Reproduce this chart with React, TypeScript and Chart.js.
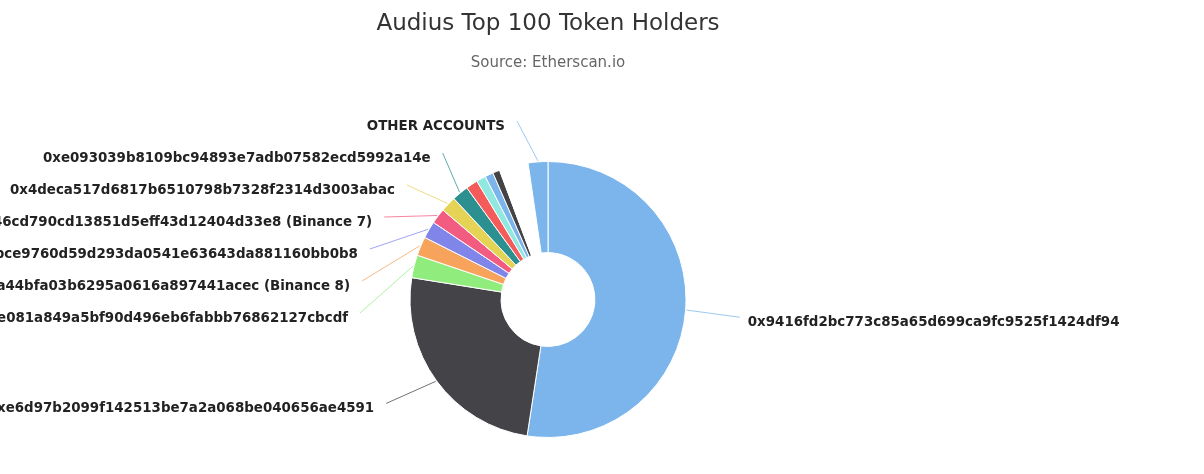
import React, { useEffect, useRef } from 'react';
import { Chart, registerables } from 'chart.js';

Chart.register(...registerables);

const chartTitle = 'Audius Top 100 Token Holders';
const chartSubtitle = 'Source: Etherscan.io';

// Slices, clockwise from 12 o'clock
const holderLabels = [
  '0x9416fd2bc773c85a65d699ca9fc9525f1424df94',
  '0xe6d97b2099f142513be7a2a068be040656ae4591',
  '0x3e081a849a5bf90d496eb6fabbb76862127cbcdf',
  '0xf977814e90da44bfa03b6295a0616a897441acec (Binance 8)',
  '0x4bce9760d59d293da0541e63643da881160bb0b8',
  '0xbe0eb53f46cd790cd13851d5eff43d12404d33e8 (Binance 7)',
  '0x4deca517d6817b6510798b7328f2314d3003abac',
  '0xe093039b8109bc94893e7adb07582ecd5992a14e',
  '',
  '',
  '',
  '',
  '',
  'OTHER ACCOUNTS',
];

const sharePercent = [52.4, 25.1, 2.67, 2.22, 2.0, 1.8, 1.83, 1.94, 1.39, 1.11, 0.97, 0.83, 3.39, 2.31];

const sliceColors = [
  '#7cb5ec', '#434348', '#90ed7d', '#f7a35c', '#8085e9', '#f15c80', '#e4d354',
  '#2b908f', '#f45b5b', '#91e8e1', '#7cb5ec', '#434348', '#ffffff', '#7cb5ec',
];

const LABEL_FONT = 'bold 13.4px "DejaVu Sans"';
const LABEL_GAP = 32;
const LABEL_MIN_Y = 125;

function spread(list: any[], gap: number, minY: number, maxY: number) {
  list.sort((a, b) => a.y - b.y);
  const groups = list.map((it) => ({ members: [it], top: it.y }));
  const place = (g: any) => {
    const mean = g.members.reduce((s: number, m: any) => s + m.y, 0) / g.members.length;
    let top = mean - ((g.members.length - 1) * gap) / 2;
    top = Math.max(minY, Math.min(top, maxY - (g.members.length - 1) * gap));
    g.top = top;
  };
  groups.forEach(place);
  let merged = true;
  while (merged) {
    merged = false;
    for (let k = 0; k < groups.length - 1; k++) {
      const a = groups[k];
      const b = groups[k + 1];
      if (a.top + a.members.length * gap > b.top) {
        a.members = a.members.concat(b.members);
        groups.splice(k + 1, 1);
        place(a);
        merged = true;
        break;
      }
    }
  }
  groups.forEach((g) => g.members.forEach((m: any, j: number) => (m.ty = g.top + j * gap)));
}

const pieLabelsPlugin = {
  id: 'pieLabels',
  afterDatasetsDraw(chart: any) {
    const ctx = chart.ctx;
    const meta = chart.getDatasetMeta(0);
    const colors = chart.data.datasets[0].backgroundColor;
    const area = chart.chartArea;
    const midX = (area.left + area.right) / 2;

    ctx.save();
    // title & subtitle
    ctx.textAlign = 'center';
    ctx.textBaseline = 'alphabetic';
    ctx.fillStyle = '#333333';
    ctx.font = '23px "DejaVu Sans"';
    ctx.fillText(chartTitle, midX, 30);
    ctx.fillStyle = '#666666';
    ctx.font = '15px "DejaVu Sans"';
    ctx.fillText(chartSubtitle, midX, 67);

    const items: any[] = [];
    meta.data.forEach((arc: any, i: number) => {
      const text = chart.data.labels[i];
      if (!text) return;
      const p = arc.getProps(['x', 'y', 'startAngle', 'endAngle', 'outerRadius'], true);
      const mid = (p.startAngle + p.endAngle) / 2;
      items.push({
        text,
        color: colors[i],
        cx: p.x,
        cy: p.y,
        r: p.outerRadius,
        mid,
        left: Math.cos(mid) < 0,
        y: p.y + 9 + (p.outerRadius + 30) * Math.sin(mid),
      });
    });
    const maxY = chart.height - 20;
    spread(items.filter((it) => it.left), LABEL_GAP, LABEL_MIN_Y, maxY);
    spread(items.filter((it) => !it.left), LABEL_GAP, LABEL_MIN_Y, maxY);

    ctx.font = LABEL_FONT;
    items.forEach((it) => {
      const rx = it.r + 62;
      const ry = it.r + 54;
      const d = (it.ty - it.cy - 13) / ry;
      const dx = rx * Math.sqrt(Math.max(0, 1 - d * d));
      const tx = it.left ? it.cx - dx : it.cx + dx;
      const touchX = it.cx + (it.r + 1) * Math.cos(it.mid);
      const touchY = it.cy + (it.r + 1) * Math.sin(it.mid);
      const sx = it.left ? tx + 12 : tx - 8;
      const sy = it.ty - 4;
      ctx.strokeStyle = it.color === '#ffffff' ? '#cccccc' : it.color;
      ctx.globalAlpha = 0.75;
      ctx.lineWidth = 1;
      ctx.beginPath();
      ctx.moveTo(sx, sy);
      ctx.lineTo(touchX, touchY);
      ctx.stroke();
      ctx.globalAlpha = 1;
      ctx.fillStyle = '#222222';
      ctx.textAlign = it.left ? 'right' : 'left';
      ctx.textBaseline = 'alphabetic';
      ctx.fillText(it.text, tx, it.ty + 5);
    });
    ctx.restore();
  },
};

export default function App() {
  const canvasRef = useRef<HTMLCanvasElement | null>(null);

  useEffect(() => {
    document.body.style.margin = '0';
    const canvas = canvasRef.current;
    if (!canvas) return;
    const chart = new Chart(canvas, {
      type: 'doughnut',
      data: {
        labels: holderLabels,
        datasets: [
          {
            data: sharePercent,
            backgroundColor: sliceColors,
            borderColor: '#ffffff',
            borderWidth: 1,
            hoverBorderWidth: 1,
            hoverOffset: 0,
          },
        ],
      },
      options: {
        responsive: false,
        animation: false,
        devicePixelRatio: 1,
        cutout: '34%',
        layout: { padding: { top: 161, bottom: 36, left: 248, right: 356 } },
        plugins: {
          legend: { display: false },
          title: { display: false },
          tooltip: { enabled: false },
        },
        events: [],
      },
      plugins: [pieLabelsPlugin],
    });
    return () => chart.destroy();
  }, []);

  return (
    <div style={{ width: 1204, height: 474, background: '#ffffff' }}>
      <canvas ref={canvasRef} width={1204} height={474} style={{ display: 'block' }} />
    </div>
  );
}
